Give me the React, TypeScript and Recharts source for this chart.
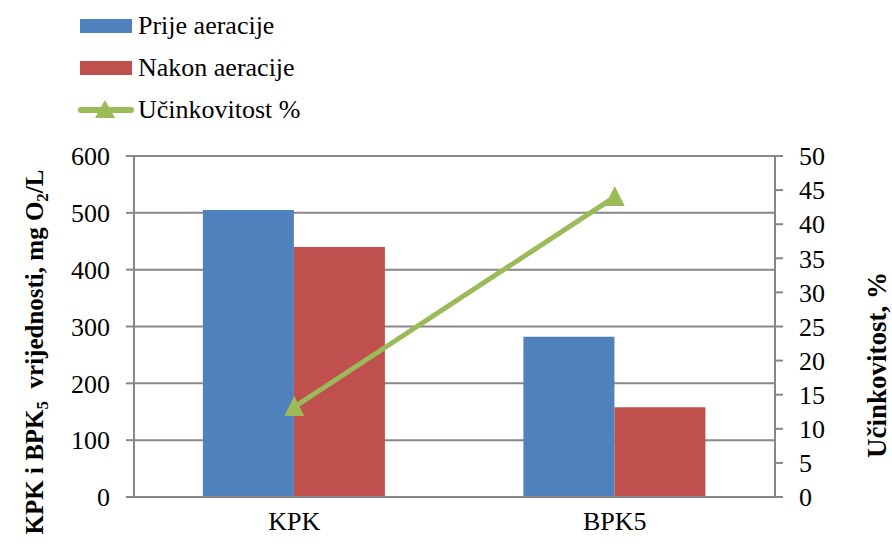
import React from "react";
import {
  ComposedChart,
  Bar,
  Line,
  XAxis,
  YAxis,
  CartesianGrid,
} from "recharts";

const categories = ["KPK", "BPK5"];
const prijeAeracije = [505, 282];
const nakonAeracije = [440, 158];
const ucinkovitost = [13.2, 44];
const leftTicks = [0, 100, 200, 300, 400, 500, 600];
const rightTicks = [0, 5, 10, 15, 20, 25, 30, 35, 40, 45, 50];
const boundaryTicks = [0, 1, 2];

const data = categories.map((name, i) => ({
  name,
  prije: prijeAeracije[i],
  nakon: nakonAeracije[i],
  ucin: ucinkovitost[i],
}));

const FONT = "'Liberation Serif', 'Times New Roman', serif";
const GRAY = "#878787";
const BLUE = "#4F81BD";
const RED = "#C0504D";
const GREEN = "#9BBB59";

function Triangle(props: any) {
  const { cx, cy } = props;
  if (cx == null || cy == null) return null;
  return (
    <path
      d={`M${cx},${cy - 11} L${cx - 10},${cy + 9} L${cx + 10},${cy + 9} Z`}
      fill={GREEN}
    />
  );
}

function LeftTitle() {
  return (
    <text
      x={0}
      y={0}
      transform="translate(43, 352) rotate(-90)"
      textAnchor="middle"
      fontFamily={FONT}
      fontWeight="bold"
      fontSize={25}
      fill="#000"
      style={{ whiteSpace: "pre" }}
    >
      KPK i BPK
      <tspan fontSize={17} dy={5}>5</tspan>
      <tspan dy={-5}>{"  vrijednosti, mg O"}</tspan>
      <tspan fontSize={17} dy={5}>2</tspan>
      <tspan dy={-5}>/L</tspan>
    </text>
  );
}

function RightTitle() {
  return (
    <text
      x={0}
      y={0}
      transform="translate(886, 365) rotate(-90)"
      textAnchor="middle"
      fontFamily={FONT}
      fontWeight="bold"
      fontSize={27}
      fill="#000"
    >
      Učinkovitost, %
    </text>
  );
}

function LegendBox() {
  const row: React.CSSProperties = {
    position: "absolute",
    left: 78,
    height: 30,
    display: "flex",
    alignItems: "center",
    fontFamily: FONT,
    fontSize: 26,
    color: "#000",
    whiteSpace: "nowrap",
  };
  return (
    <>
      <div style={{ ...row, top: 11 }}>
        <div style={{ width: 52, height: 14, background: BLUE, marginLeft: 2, marginRight: 6 }} />
        Prije aeracije
      </div>
      <div style={{ ...row, top: 53 }}>
        <div style={{ width: 52, height: 14, background: RED, marginLeft: 2, marginRight: 6 }} />
        Nakon aeracije
      </div>
      <div style={{ ...row, top: 95 }}>
        <svg width={56} height={30} style={{ marginRight: 4 }}>
          <line x1={3} y1={15} x2={53} y2={15} stroke={GREEN} strokeWidth={6} strokeLinecap="round" />
          <path d="M27,5 L17,23 L37,23 Z" fill={GREEN} />
        </svg>
        Učinkovitost %
      </div>
    </>
  );
}

export default function App() {
  return (
    <div
      style={{
        position: "absolute",
        left: 0,
        top: 0,
        width: 892,
        height: 549,
        background: "#fff",
      }}
    >
      <ComposedChart
        width={892}
        height={549}
        data={data}
        margin={{ top: 156, right: 0, bottom: 0, left: 0 }}
        barCategoryGap="21.5%"
        barGap={0}
      >
        <CartesianGrid
          yAxisId="left"
          vertical={false}
          stroke={GRAY}
          strokeWidth={2}
        />
        <XAxis
          xAxisId="ticks"
          type="number"
          domain={[0, 2]}
          ticks={boundaryTicks}
          height={0}
          tick={false}
          axisLine={false}
          tickLine={{ stroke: GRAY, strokeWidth: 2 }}
          tickSize={7}
        />
        <XAxis
          xAxisId="cat"
          dataKey="name"
          height={52}
          axisLine={{ stroke: GRAY, strokeWidth: 2 }}
          tickLine={false}
          tickSize={0}
          tickMargin={15}
          tick={{ fontFamily: FONT, fontSize: 26, fill: "#000" }}
        />
        <YAxis
          yAxisId="left"
          width={134}
          domain={[0, 600]}
          ticks={leftTicks}
          interval={0}
          axisLine={{ stroke: GRAY, strokeWidth: 2 }}
          tickLine={{ stroke: GRAY, strokeWidth: 2 }}
          tickSize={8}
          tickMargin={16}
          tick={{ fontFamily: FONT, fontSize: 26, fill: "#000" }}
        />
        <YAxis
          yAxisId="right"
          orientation="right"
          width={117}
          domain={[0, 50]}
          ticks={rightTicks}
          interval={0}
          axisLine={{ stroke: GRAY, strokeWidth: 2 }}
          tickLine={{ stroke: GRAY, strokeWidth: 2 }}
          tickSize={8}
          tickMargin={16}
          tick={{ fontFamily: FONT, fontSize: 26, fill: "#000", textAnchor: "start" }}
        />
        <Bar
          xAxisId="cat"
          yAxisId="left"
          dataKey="prije"
          fill={BLUE}
          isAnimationActive={false}
        />
        <Bar
          xAxisId="cat"
          yAxisId="left"
          dataKey="nakon"
          fill={RED}
          isAnimationActive={false}
        />
        <Line
          xAxisId="cat"
          yAxisId="right"
          dataKey="ucin"
          stroke={GREEN}
          strokeWidth={5}
          dot={<Triangle />}
          activeDot={false}
          isAnimationActive={false}
        />
        <LeftTitle />
        <RightTitle />
      </ComposedChart>
      <LegendBox />
    </div>
  );
}
